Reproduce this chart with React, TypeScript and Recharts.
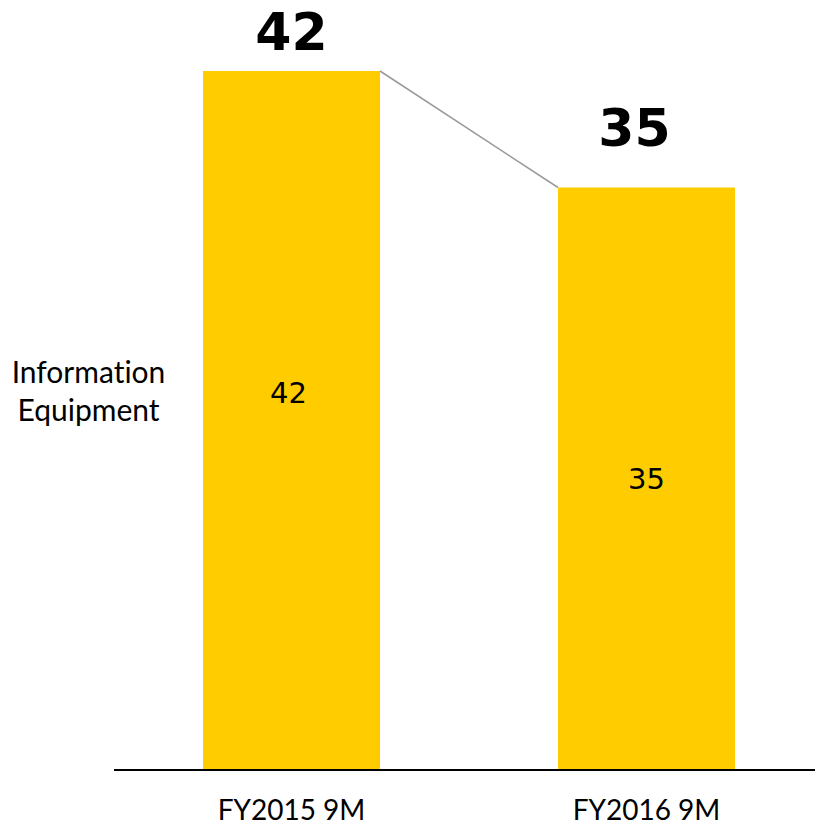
import React from 'react';
import { BarChart, Bar, XAxis, YAxis, LabelList, ReferenceLine } from 'recharts';

const categories = ['FY2015 9M', 'FY2016 9M'];
const infoEquipment = [42, 35];
const seriesName = 'Information Equipment';

const data = categories.map((period, i) => ({ period, value: infoEquipment[i] }));

const YELLOW = '#FFCC00';
const BAR_SIZE = 177;
const LABEL_FONT = 'Lato, "Noto Sans", sans-serif';
const NUM_FONT = '"DejaVu Sans", Verdana, sans-serif';

// hand-placed label nudges, like the original slide
const totalShift = [
  { dx: 0, dy: -21 },
  { dx: -12, dy: -42 },
];
const innerShift = [
  { dx: -3, dy: -28 },
  { dx: 0, dy: 0 },
];

const TotalLabel = (props: any) => {
  const { x, y, width, value, index } = props;
  const s = totalShift[index] || { dx: 0, dy: 0 };
  return (
    <text
      x={x + width / 2 + s.dx}
      y={y + s.dy}
      textAnchor="middle"
      fontFamily={NUM_FONT}
      fontWeight="bold"
      fontSize={52}
      fill="#000"
    >
      {value}
    </text>
  );
};

const InnerLabel = (props: any) => {
  const { x, y, width, height, value, index } = props;
  const s = innerShift[index] || { dx: 0, dy: 0 };
  return (
    <text
      x={x + width / 2 + s.dx}
      y={y + height / 2 + s.dy}
      textAnchor="middle"
      dominantBaseline="central"
      fontFamily={NUM_FONT}
      fontSize={29}
      fill="#000"
    >
      {value}
    </text>
  );
};

const PeriodTick = (props: any) => {
  const { x, y, payload } = props;
  return (
    <text x={x} y={y + 48} textAnchor="middle" fontFamily={LABEL_FONT} fontSize={28} fill="#000">
      {payload.value}
    </text>
  );
};

// connector between the top corners of the two bars
const Connector = (props: any) => {
  const { x1, y1, x2, y2 } = props;
  return (
    <line
      x1={x1 + BAR_SIZE / 2}
      y1={y1}
      x2={x2 - BAR_SIZE / 2}
      y2={y2}
      stroke="#9a9a9a"
      strokeWidth={1.5}
    />
  );
};

export default function App() {
  return (
    <div style={{ position: 'absolute', left: 0, top: 0, width: 815, height: 826, overflow: 'hidden', background: '#fff' }}>
      <BarChart width={830} height={826} data={data} margin={{ top: 71, right: 6, bottom: 0, left: 114 }}>
        <XAxis
          dataKey="period"
          height={56}
          tickLine={false}
          tickSize={0}
          axisLine={{ stroke: '#000', strokeWidth: 2 }}
          tick={<PeriodTick />}
          interval={0}
        />
        <YAxis hide domain={[0, 42]} />
        <Bar dataKey="value" name={seriesName} fill={YELLOW} barSize={BAR_SIZE} isAnimationActive={false}>
          <LabelList dataKey="value" content={<TotalLabel />} />
          <LabelList dataKey="value" content={<InnerLabel />} />
        </Bar>
        <ReferenceLine
          segment={[
            { x: categories[0], y: infoEquipment[0] },
            { x: categories[1], y: infoEquipment[1] },
          ]}
          ifOverflow="visible"
          shape={<Connector />}
        />
      </BarChart>
      <div
        style={{
          position: 'absolute',
          left: 0,
          top: 352,
          width: 177,
          textAlign: 'center',
          fontFamily: LABEL_FONT,
          fontSize: 30,
          lineHeight: '38px',
          color: '#000',
          fontVariantLigatures: 'none',
        }}
      >
        Information
        <br />
        Equipment
      </div>
    </div>
  );
}
